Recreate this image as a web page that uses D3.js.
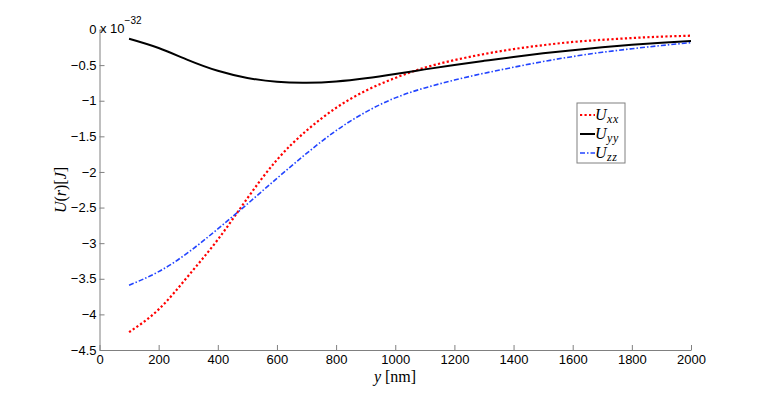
<!DOCTYPE html>
<meta charset="UTF-8">
<style>
    body { margin: 0; background: #fff; }
    .tick text { font-family: "Liberation Sans", Arial, sans-serif; font-size: 13px; fill: #000; }
    .axis path, .axis line { stroke: #808080; }
    .math { font-family: "Liberation Serif", "DejaVu Serif", serif; }
</style>
<body>
<script src="https://d3js.org/d3.v7.min.js"></script>
<script>
// distance in nm
var ynm = [100, 200, 300, 400, 500, 600, 700, 800, 900, 1000, 1100, 1200, 1300, 1400, 1500, 1600, 1700, 1800, 1900, 2000];
// energies in units of 1e-32 J
var uxx = [-4.25, -3.93, -3.46, -2.95, -2.37, -1.83, -1.42, -1.10, -0.86, -0.68, -0.535, -0.43, -0.345, -0.275, -0.22, -0.175, -0.145, -0.12, -0.10, -0.087];
var uyy = [-0.13, -0.26, -0.43, -0.58, -0.68, -0.735, -0.748, -0.73, -0.685, -0.625, -0.56, -0.497, -0.44, -0.385, -0.335, -0.29, -0.25, -0.215, -0.185, -0.16];
var uzz = [-3.59, -3.40, -3.13, -2.80, -2.45, -2.09, -1.74, -1.42, -1.16, -0.96, -0.82, -0.71, -0.615, -0.53, -0.45, -0.38, -0.32, -0.27, -0.225, -0.185];
var xTicks = [0, 200, 400, 600, 800, 1000, 1200, 1400, 1600, 1800, 2000];
var yTicks = [0, -0.5, -1, -1.5, -2, -2.5, -3, -3.5, -4, -4.5];

var series = [
    {name: "xx", values: uxx, color: "#ff0000", width: 2.2, dash: "2.2,2.3"},
    {name: "yy", values: uyy, color: "#000000", width: 2, dash: null},
    {name: "zz", values: uzz, color: "#2244ff", width: 1.6, dash: "5,2,1.5,2"}
];

var W = 763, H = 394;
var x = d3.scaleLinear().domain([0, 2000]).range([99.5, 691]);
var y = d3.scaleLinear().domain([-4.5, 0]).range([350, 29.5]);

var svg = d3.select("body").append("svg")
    .attr("width", W)
    .attr("height", H);

function fmt(d) { return d < 0 ? "\u2212" + Math.abs(d) : String(d); }

// X axis
svg.append("g")
    .attr("class", "axis")
    .attr("transform", "translate(0,350)")
    .call(d3.axisBottom(x).tickValues(xTicks).tickSize(-5).tickSizeOuter(0).tickPadding(5).tickFormat(fmt));

// Y axis
svg.append("g")
    .attr("class", "axis")
    .attr("transform", "translate(99.5,0)")
    .call(d3.axisLeft(y).tickValues(yTicks).tickSize(-5).tickSizeOuter(0).tickPadding(3).tickFormat(fmt));

// lines
var line = d3.line()
    .x(function(d, i) { return x(ynm[i]); })
    .y(function(d) { return y(d); })
    .curve(d3.curveNatural);

series.forEach(function(s) {
    svg.append("path")
        .datum(s.values)
        .attr("fill", "none")
        .attr("stroke", s.color)
        .attr("stroke-width", s.width)
        .attr("stroke-dasharray", s.dash)
        .attr("d", line);
});

// exponent label
var ex = svg.append("text")
    .attr("x", 100).attr("y", 33)
    .style("font-family", "Liberation Sans, Arial, sans-serif")
    .style("font-size", "13px");
ex.append("tspan").text("x 10");
ex.append("tspan").attr("dy", -9).style("font-size", "10px").text("\u221232");

// axis labels
var xl = svg.append("text")
    .attr("class", "math")
    .attr("x", 395).attr("y", 382)
    .attr("text-anchor", "middle")
    .style("font-size", "16px");
xl.append("tspan").style("font-style", "italic").text("y");
xl.append("tspan").text(" [nm]");

var yl = svg.append("text")
    .attr("class", "math")
    .attr("transform", "translate(66,190) rotate(-90)")
    .attr("text-anchor", "middle")
    .style("font-size", "16px");
yl.append("tspan").style("font-style", "italic").text("U");
yl.append("tspan").text("(");
yl.append("tspan").style("font-style", "italic").text("r");
yl.append("tspan").text(")[");
yl.append("tspan").style("font-style", "italic").text("J");
yl.append("tspan").text("]");

// legend
var lg = svg.append("g").attr("transform", "translate(577,103)");
lg.append("rect")
    .attr("width", 48).attr("height", 60)
    .attr("fill", "#fff")
    .attr("stroke", "#808080")
    .attr("stroke-width", 1);

series.forEach(function(s, i) {
    var cy = 12 + i * 19;
    lg.append("line")
        .attr("x1", 3).attr("x2", 18)
        .attr("y1", cy).attr("y2", cy)
        .attr("stroke", s.color)
        .attr("stroke-width", s.width)
        .attr("stroke-dasharray", s.dash);
    var t = lg.append("text")
        .attr("class", "math")
        .attr("x", 18).attr("y", cy + 5)
        .style("font-style", "italic")
        .style("font-size", "16px");
    t.append("tspan").text("U");
    t.append("tspan").attr("dy", 3).attr("dx", 0.5).style("font-size", "12px").style("letter-spacing", "0.5px").text(s.name);
});
</script>
</body>
